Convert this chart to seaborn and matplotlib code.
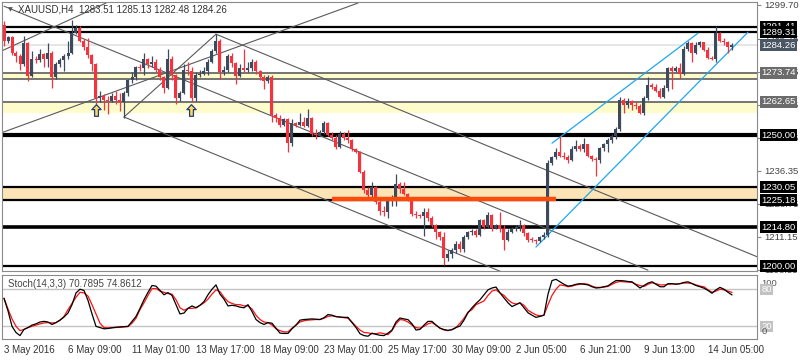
import numpy as np
import matplotlib
matplotlib.use("Agg")
import matplotlib.pyplot as plt
import matplotlib.transforms as mtransforms
from matplotlib.path import Path
import seaborn as sns

# ---------------- data ----------------
opens = [1292,1286,1287.5,1281.5,1280,1277,1285,1272.5,1279,1278.5,
 1281,1279,1281.5,1272,1277,1278.5,1280,1281.5,1289,1291,
 1286,1283.5,1280.5,1277,1264,1265,1263.5,1263,1265,1263.5,
 1262.5,1266,1271,1272,1276,1275.5,1279,1277,1278,1275,
 1272,1268,1279,1273,1264,1266,1275,1274.5,1264,1273,
 1273.5,1274.5,1278,1282,1286,1274,1275,1280,1277.5,1272.5,
 1275.5,1274.8,1275.5,1278,1274.5,1272,1270.5,1272,1257.5,1256.5,
 1254,1256,1247,1254.5,1254,1255,1253.5,1256.5,1250.5,1250,
 1251,1254.5,1250,1249,1245.5,1250.5,1249,1248,1244.5,1243.5,
 1236,1229,1227,1230,1224.5,1221,1220.5,1225,1225.5,1231.5,
 1229.5,1227.5,1226,1220,1219.5,1219,1220.5,1218.5,1215.5,1213,
 1211,1203,1204.5,1206,1208.5,1206.5,1211,1213,1213.5,1212,
 1217.5,1215,1219.5,1214.5,1215.5,1214,1210,1213,1214,1215,
 1215.5,1212.5,1210,1209.8,1209.5,1211,1212,1239.5,1241.5,1243.5,
 1242,1241.5,1240.5,1244.5,1246,1244.5,1246.5,1242,1241,1240.5,
 1245,1246.5,1248,1249.5,1252.5,1263.5,1261.5,1263,1261.5,1261,
 1258.5,1264,1269,1268.5,1267,1264.5,1268,1275.5,1274.5,1275.5,
 1273.5,1283,1285,1281.5,1284.5,1285.5,1282.5,1279.5,1279,1289,
 1286,1285.5,1283.51]
closes = [1286,1287.5,1281.5,1280,1277,1285,1272.5,1279,1278.5,1281,
 1279,1281.5,1272,1277,1278.5,1280,1281.5,1289,1291,1286,
 1283.5,1280.5,1277,1264,1265,1263.5,1263,1265,1263.5,1262.5,
 1266,1271,1272,1276,1275.5,1279,1277,1278,1275,1272,
 1268,1279,1273,1264,1266,1275,1274.5,1264,1273,1273.5,
 1274.5,1278,1282,1286,1274,1275,1280,1277.5,1272.5,1275.5,
 1274.8,1275.5,1278,1274.5,1272,1270.5,1272,1257.5,1256.5,1254,
 1256,1247,1254.5,1254,1255,1253.5,1256.5,1250.5,1250,1251,
 1254.5,1250,1249,1245.5,1250.5,1249,1248,1244.5,1243.5,1236,
 1229,1227,1230,1224.5,1221,1220.5,1225,1225.5,1231.5,1229.5,
 1227.5,1226,1220,1219.5,1219,1220.5,1218.5,1215.5,1213,1211,
 1203,1204.5,1206,1208.5,1206.5,1211,1213,1213.5,1212,1217.5,
 1215,1219.5,1214.5,1215.5,1214,1210,1213,1214,1215,1215.5,
 1212.5,1210,1209.8,1209.5,1211,1212,1239.5,1241.5,1243.5,1242,
 1241.5,1240.5,1244.5,1246,1244.5,1246.5,1242,1241,1240.5,1245,
 1246.5,1248,1249.5,1252.5,1263.5,1261.5,1263,1261.5,1261,1258.5,
 1264,1269,1268.5,1267,1264.5,1268,1275.5,1274.5,1275.5,1273.5,
 1283,1285,1281.5,1284.5,1285.5,1282.5,1279.5,1279,1289,1286,
 1285.5,1283.51,1284.26]
highs = [1293.5,1288,1288,1282,1281,1288,1285.5,1282,1280,1283,
 1281.5,1285,1282,1278,1279.5,1281,1286,1294,1292,1291.5,
 1286.5,1287,1281,1277.5,1267,1265.5,1265,1266,1267,1266,
 1267,1271.5,1274,1276.5,1277,1281.5,1279.5,1280,1279,1276,
 1272.5,1283,1280,1273.5,1267,1277,1278,1276,1274,1275,
 1276,1279,1283,1288.5,1286.5,1276.5,1281,1281.5,1278,1277,
 1283,1278,1279,1278.5,1275,1273,1273,1273,1258.5,1257.5,
 1256.5,1256.5,1256,1255,1258.5,1257,1260,1257,1252.5,1252,
 1255.5,1255,1251,1250,1251.5,1251,1252,1248.5,1245,1244,
 1236.5,1230,1232,1230.5,1226,1223,1226,1227,1235,1232,
 1232,1228,1226.5,1221,1220,1222,1222,1219,1216,1213.5,
 1213,1206,1207,1209.5,1209.5,1212,1213.5,1214,1214,1218,
 1218,1220.5,1220,1216,1220.5,1215.5,1214,1215,1215.5,1217.5,
 1216,1213,1211,1210.5,1211.5,1213,1240.5,1242,1245,1249.5,
 1243.5,1242.5,1246,1248,1246.5,1249,1246.5,1242.5,1241.5,1245.5,
 1247,1249,1250.5,1253,1264.5,1264,1264,1263.5,1262.5,1262,
 1265,1272,1270,1269.5,1268,1269,1276,1276.5,1276.5,1277.5,
 1284,1286,1285.5,1285.5,1286,1285.5,1283.5,1280,1291.5,1289.5,
 1287,1286,1285.13]
lows = [1284,1285,1280.5,1278,1275,1276.5,1270.5,1272,1277.5,1278,
 1276,1276,1268,1271.5,1276,1274.5,1279,1281,1288.5,1285.5,
 1282.5,1279.5,1274.5,1262,1262.5,1259.5,1258,1262.5,1262,1259,
 1256.5,1265,1270,1271,1274.5,1273,1275.5,1276,1274,1271,
 1266,1267.5,1271,1262,1263,1265.5,1273,1262.5,1263,1272,
 1273,1273,1277.5,1281.5,1271.5,1273,1274,1276,1269.5,1272,
 1274,1274,1274.5,1273.5,1271,1267.5,1270,1255,1255,1253,
 1253.5,1243.5,1246,1253,1253.5,1253,1253,1249.5,1248.5,1249.5,
 1250.5,1249.5,1248,1244.5,1245,1248,1247,1244,1243,1235.5,
 1228,1226.5,1226,1223.5,1219.5,1219,1218.5,1223,1223,1228,
 1227,1225,1219,1218.5,1218.5,1211.5,1217,1215,1210.5,1210,
 1200.5,1202,1203,1205,1205.5,1205.5,1210.5,1212,1211,1211.5,
 1214,1214.5,1213.5,1214,1213,1206,1209.5,1212.5,1213.5,1213.5,
 1211.5,1209,1209,1208.5,1209,1210.5,1211,1238.5,1241,1241.5,
 1241,1239.5,1240,1244,1244,1243.5,1241.5,1240,1234.5,1239.5,
 1244,1243.5,1247,1248.5,1251.5,1258.5,1260.5,1259.5,1260,1258,
 1257.5,1263.5,1267.5,1266.5,1264,1264,1267,1267.5,1274,1271.5,
 1273,1282,1278,1281,1283.5,1282,1279,1278.5,1278,1285.5,
 1284.5,1281.5,1282.48]

stoch_k = [65.5,45,20,10,5,15,18,22,24,27,
 28,27,23,26,30,35,41.5,55,74,80,
 78,62,40,20,18,16,16.5,17.5,18.5,19,
 19.5,20,28,36,49,63,75,86,85,78,
 71,74.5,70,55,40,41.5,49,53,50,54,
 60,71,80,87,72,64,53,54,53,51,
 50,55,44,31,26,23,26,25,17,9,
 8.5,8.5,16,22,30,31,31.5,32,31.5,31,
 34,39,38,35.5,35,34.5,34.5,26,18,8,
 5,4,9,7,5.5,5,9,14,27,33.5,
 32,30.8,24,14,15,22,28,28,22,17,
 14.8,13.5,14.5,18,20.5,30,42,50,57,63,
 71,79,82,83.5,74,66,58,52,55,58,
 50,42,38,34.5,36,38,72,94,96,92,
 88,85,86,88,89,88,87,84,82,82.5,
 84,85.5,90,94,94,93.5,92.5,92,87,82,
 86,90,92,88,84,84,89,89,88,89,
 91,92,89,86,84,81.7,78,73.5,79,83,
 80,75,70.79]
stoch_d = [65,48,32,20,13,15,18,20,22,24,
 25.5,26,25.5,26,30,36,47,57,67,75,
 74,69,55,40,25,18,17.5,18,18,18.5,
 19,19.5,25,33,47,58,70,81,81,77,
 75,73,72,63,50,46,49,49,50,54,
 58,64,72,79,76,67,60,57,55,55,
 53,53,48,38,31,27,26,22,16,13,
 11,11,17,22,27,29,30,30.5,31,31,
 33,36,37,36,35,34,33,27,20,14,
 10,9.5,8,8,9.5,8,6.5,13,24,31,
 30,27,22,18,17,20,24,26,22,17,
 14,13,15,18,25,33,43,47,55,58,
 61,70,77,79,74,70,63,58,56,58,
 54,46,42,38.5,37,38,55,70,80,87,
 86,84,85,87,88,89,88,85,83,83,
 83.5,84.5,88,91,92.5,92,91.5,91,88,86,
 84.5,88,90.5,89,87,87,88,88.5,88.5,89,
 90,90,89.5,87,85,84,79,75,77,80,
 79,77,74.86]

x_tick_bars = [0, 16, 32, 48, 64, 80, 96, 112, 128, 144, 160, 176]
x_tick_labels = ["3 May 2016", "6 May 09:00", "11 May 01:00", "13 May 17:00",
                 "18 May 09:00", "23 May 01:00", "25 May 17:00", "30 May 09:00",
                 "2 Jun 05:00", "6 Jun 21:00", "9 Jun 13:00", "14 Jun 05:00"]
scale_prices = [1198.55, 1211.15, 1223.75, 1236.35, 1248.95, 1261.55, 1274.15, 1286.75, 1299.70]

black_levels = [1291.41, 1289.31, 1250.00, 1230.05, 1225.18, 1214.80, 1200.00]
black_widths = [1.6, 1.6, 3.0, 1.6, 1.6, 2.6, 1.6]
gray_levels = [1273.74, 1271.50, 1262.65]
yellow_bands = [(1271.50, 1273.74), (1258.40, 1262.65)]
orange_band = (1225.18, 1230.05)
orange_segment = (82, 138, 1225.4)
current_price = 1284.26
title_text = "XAUUSD,H4  1283.51 1285.13 1282.48 1284.26"
stoch_text = "Stoch(14,3,3) 70.7895 74.8612"

# trend lines: (bar0, price0, bar1, price1)
gray_trends = [(-0.75, 1250.8, 88.5, 1300.4),
               (-0.75, 1282.0, 25.5, 1300.4),
               (0, 1299.2, 161, 1198.4),
               (53, 1288.5, 188.5, 1203.4),
               (30, 1256.9, 53, 1288.5),
               (30, 1256.9, 125, 1197.4)]
blue_trends = [(137, 1246.9, 173.5, 1288.9),
               (133, 1207.25, 186, 1289.3)]
arrow_points = [(23, 1259.5), (46.75, 1259.5)]

# label boxes: (price, text, face)
boxed_labels = [(1291.41, "1291.41", "black"), (1289.31, "1289.31", "black"),
                (1284.26, "1284.26", "#4b5665"), (1273.74, "1273.74", "#6b6b6b"),
                (1262.65, "1262.65", "#6b6b6b"), (1250.00, "1250.00", "black"),
                (1230.05, "1230.05", "black"), (1225.18, "1225.18", "black"),
                (1214.80, "1214.80", "black"), (1200.00, "1200.00", "black")]

# ---------------- styling ----------------
sns.set_style("white")
plt.rcParams['font.family'] = ['Liberation Sans', 'DejaVu Sans']

BULL = '#3c4a5c'
BEAR = '#f5333f'
EDGE = '#8a8a8a'

fig = plt.figure(figsize=(8, 3.6), dpi=100)
ax = fig.add_axes([2/800, 1-271/360, 755/800, 269/360])
axs = fig.add_axes([2/800, 1-339/360, 755/800, 64/360])

O = np.array(opens); C = np.array(closes); H = np.array(highs); L = np.array(lows)
idx = np.arange(len(C))

XL = (-0.5, 188.25)
ax.set_xlim(*XL)
ax.set_ylim(1198.1, 1300.8)

# bands
for lo, hi in yellow_bands:
    ax.axhspan(lo, hi, color='#fffccc', zorder=0.5, lw=0)
ax.axhspan(orange_band[0], orange_band[1], color='#fde4b6', zorder=0.5, lw=0)

ax.axhline(current_price, color='#e2e2e2', lw=1.2, zorder=1)
for lv in gray_levels:
    ax.axhline(lv, color='#6a6a6a', lw=1.3, zorder=1.5)
for lv, w in zip(black_levels, black_widths):
    ax.axhline(lv, color='black', lw=w, zorder=1.5)

for b0, p0, b1, p1 in gray_trends:
    ax.plot([b0, b1], [p0, p1], color='#5a5a5a', lw=0.8, zorder=2)
for b0, p0, b1, p1 in blue_trends:
    ax.plot([b0, b1], [p0, p1], color='#1ea7ee', lw=0.9, zorder=2)

# candles
up = C >= O
cols = np.where(up, BULL, BEAR)
ax.vlines(idx, L, H, colors=cols, lw=0.9, zorder=3)
body_bottom = np.minimum(O, C)
body_h = np.maximum(np.abs(C - O), 0.4)
ax.bar(idx, body_h, bottom=body_bottom, width=0.75, color=cols, lw=0, zorder=4)

# orange horizontal segment
ax.plot([orange_segment[0], orange_segment[1]], [orange_segment[2]]*2,
        color='#ff4a0a', lw=3.2, zorder=5, solid_capstyle='butt')

# arrows
verts = [(0, 1), (0.8, 0.15), (0.33, 0.15), (0.33, -1), (-0.33, -1),
         (-0.33, 0.15), (-0.8, 0.15), (0, 1)]
arrow_marker = Path(verts, [Path.MOVETO] + [Path.LINETO]*6 + [Path.CLOSEPOLY])
ax.scatter([p[0] for p in arrow_points], [p[1] for p in arrow_points],
           marker=arrow_marker, s=70, facecolor='#ffd95a', edgecolor='#1c3c86',
           linewidths=0.9, zorder=6)

# axes styling
ax.set_xticks([])
ax.yaxis.tick_right()
ax.set_yticks(scale_prices)
ax.set_yticklabels([f"{p:.2f}" for p in scale_prices])
ax.tick_params(axis='y', labelsize=6.8, colors=EDGE, labelcolor='#444444',
               length=3, width=0.8, pad=2, direction='out')
for s in ax.spines.values():
    s.set_color(EDGE); s.set_linewidth(0.8)

trans = mtransforms.blended_transform_factory(ax.transAxes, ax.transData)
for price, txt, fc in boxed_labels:
    ax.text(1.0055, price, txt, transform=trans, fontsize=6.8, color='white',
            va='center', ha='left', clip_on=False, zorder=10,
            bbox=dict(boxstyle='square,pad=0.15', fc=fc, ec='none'))

ax.text(0.008, 0.972, "\u25bc", transform=ax.transAxes, fontsize=4.5,
        color='#555555', va='center', ha='left', family=['DejaVu Sans'])
ax.text(0.021, 0.972, title_text, transform=ax.transAxes, fontsize=7,
        color='#333333', va='center', ha='left')

# stochastic panel
axs.set_xlim(*XL)
axs.set_ylim(-0.5, 103)
axs.axhline(80, color='#c4c4c4', lw=1, zorder=1)
axs.axhline(20, color='#c4c4c4', lw=1, zorder=1)
sns.lineplot(x=idx, y=stoch_d, ax=axs, color='#ff1010', lw=0.9, zorder=3)
sns.lineplot(x=idx, y=stoch_k, ax=axs, color='black', lw=0.9, zorder=4)
axs.set_yticks([])
axs.set_ylabel('')
axs.set_xticks(x_tick_bars)
axs.set_xticklabels(x_tick_labels, ha='left')
axs.tick_params(axis='x', labelsize=7, colors=EDGE, labelcolor='#333333',
                length=3, width=0.8, pad=1.5, direction='out')
for s in axs.spines.values():
    s.set_color(EDGE); s.set_linewidth(0.8)
axs.text(0.008, 0.86, stoch_text, transform=axs.transAxes, fontsize=7,
         color='#444444', va='center', ha='left')

trans_s = mtransforms.blended_transform_factory(axs.transAxes, axs.transData)
axs.text(1.0055, 90, "100", transform=trans_s, fontsize=6.8, color='#555555',
         va='center', ha='left', clip_on=False)
axs.text(1.0055, 80, "80", transform=trans_s, fontsize=6.8, color='white',
         va='center', ha='left', clip_on=False,
         bbox=dict(boxstyle='square,pad=0.1', fc='#c2c2c2', ec='none'))
axs.text(1.0055, 20, "20", transform=trans_s, fontsize=6.8, color='white',
         va='center', ha='left', clip_on=False,
         bbox=dict(boxstyle='square,pad=0.1', fc='#c2c2c2', ec='none'))
axs.text(1.0055, 11, "0", transform=trans_s, fontsize=6.8, color='#555555',
         va='center', ha='left', clip_on=False)

fig.savefig("out.png", dpi=100)
